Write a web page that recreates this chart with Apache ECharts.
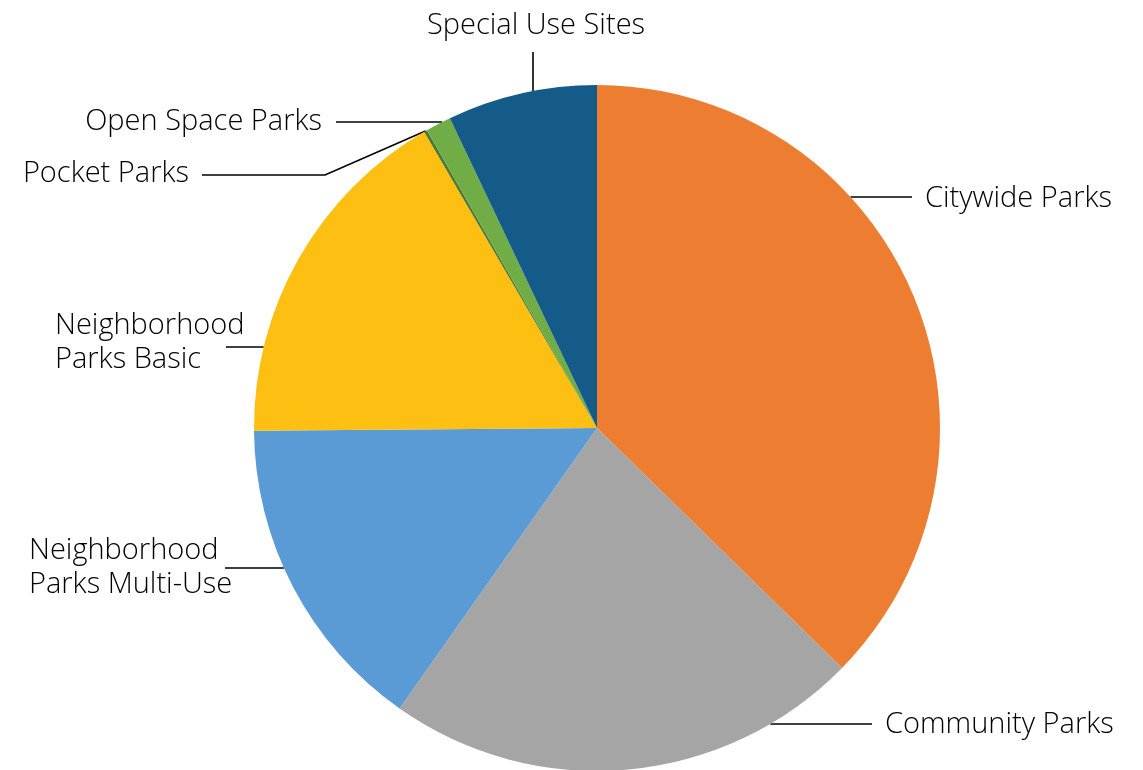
<!DOCTYPE html>
<html>
<head>
<meta charset="utf-8">
<script src="https://cdn.jsdelivr.net/npm/echarts@6/dist/echarts.min.js"></script>
<style>
html,body{margin:0;padding:0;background:#fff;}
#main{width:1143px;height:770px;}
</style>
</head>
<body>
<div id="main"></div>
<script>
// Data
const categories = [
  'Citywide Parks',
  'Community Parks',
  'Neighborhood Parks Multi-Use',
  'Neighborhood Parks Basic',
  'Pocket Parks',
  'Open Space Parks',
  'Special Use Sites'
];
const shares = [37.3, 22.4, 15.1, 16.7, 0.15, 1.2, 7.05];

// Styles
const palette = ['#ED7D31', '#A5A5A5', '#5B9BD5', '#FCBF12', '#4E7A30', '#70AD47', '#155B8A'];
const CX = 597, CY = 428, R = 343;

// label placement: text anchor + leader line description
const labelPlace = [
  {x: 925, y: 199, align: 'left',  lineY: 197, lineEnd: 912, side: 1},
  {x: 885, y: 725, align: 'left',  lineY: 724, lineEnd: 872, side: 1},
  {x: 29,  y: 568, align: 'left',  lineY: 568, lineEnd: 225, side: -1},
  {x: 55,  y: 343, align: 'left',  lineY: 347, lineEnd: 226, side: -1},
  {x: 189, y: 174, align: 'right', lineY: 175, lineEnd: 202, side: -1, bend: 325},
  {x: 322, y: 122, align: 'right', lineY: 122, lineEnd: 336, side: -1},
  {x: 536, y: 26,  align: 'center', vertical: true, lineX: 533, lineTop: 52}
];

const chart = echarts.init(document.getElementById('main'), null, {renderer: 'canvas'});

function edgeX(y, side) {
  const dy = y - CY;
  return CX + side * Math.sqrt(Math.max(0, R * R - dy * dy));
}

const option = {
  backgroundColor: '#ffffff',
  animation: false,
  series: [{
    type: 'pie',
    center: [CX, CY],
    radius: [0, R],
    startAngle: 90,
    clockwise: true,
    avoidLabelOverlap: false,
    itemStyle: {borderWidth: 0},
    color: palette,
    label: {
      show: true,
      position: 'outside',
      fontFamily: '"Open Sans", sans-serif',
      fontWeight: 300,
      fontSize: 29,
      lineHeight: 34,
      color: '#000000',
      formatter: p => p.name.replace('Neighborhood ', 'Neighborhood\n')
    },
    labelLine: {
      show: true,
      lineStyle: {color: '#000000', width: 1.6}
    },
    labelLayout: function (params) {
      const L = labelPlace[params.dataIndex];
      let pts;
      if (L.vertical) {
        const dx = L.lineX - CX;
        const ey = CY - Math.sqrt(R * R - dx * dx);
        pts = [[L.lineX, ey], [L.lineX, (ey + L.lineTop) / 2], [L.lineX, L.lineTop]];
      } else if (L.bend !== undefined) {
        const p0 = params.labelLinePoints ? params.labelLinePoints[0] : [edgeX(L.lineY, L.side), L.lineY];
        pts = [p0, [L.bend, L.lineY], [L.lineEnd, L.lineY]];
      } else {
        const ex = edgeX(L.lineY, L.side);
        pts = [[ex, L.lineY], [(ex + L.lineEnd) / 2, L.lineY], [L.lineEnd, L.lineY]];
      }
      return {
        x: L.x,
        y: L.y,
        align: L.align,
        verticalAlign: 'middle',
        labelLinePoints: pts
      };
    },
    data: categories.map((c, i) => ({name: c, value: shares[i]}))
  }]
};
chart.setOption(option);
</script>
</body>
</html>
